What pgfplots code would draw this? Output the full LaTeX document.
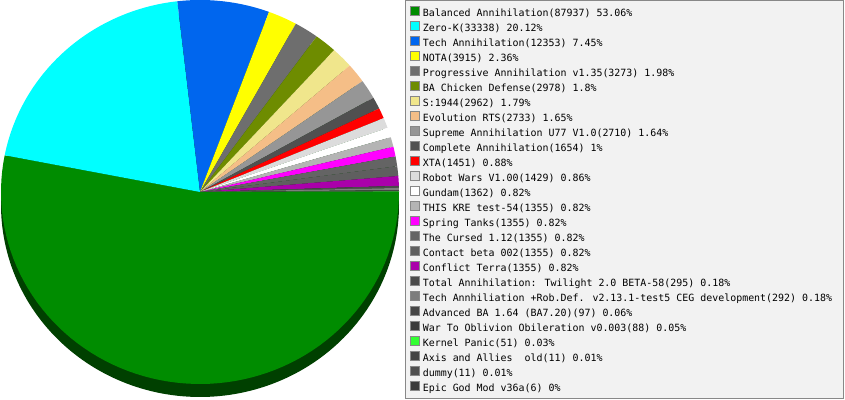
\documentclass[border=0pt]{standalone}
\usepackage{pgfplots}
\pgfplotsset{compat=1.18}
\usepackage{pgfplotstable}
\usepackage{fontspec}
\setmainfont{DejaVu Sans}
\newfontfamily\legmono{DejaVu Sans Mono}
\newcommand\legfont{\legmono\fontsize{9.95bp}{12bp}\selectfont}

\definecolor{c1}{RGB}{0,140,0}
\definecolor{c2}{RGB}{0,255,255}
\definecolor{c3}{RGB}{0,102,238}
\definecolor{c4}{RGB}{255,255,0}
\definecolor{c5}{RGB}{110,110,110}
\definecolor{c6}{RGB}{110,140,0}
\definecolor{c7}{RGB}{240,230,140}
\definecolor{c8}{RGB}{245,190,135}
\definecolor{c9}{RGB}{150,150,150}
\definecolor{c10}{RGB}{80,80,80}
\definecolor{c11}{RGB}{255,0,0}
\definecolor{c12}{RGB}{220,220,220}
\definecolor{c13}{RGB}{255,255,255}
\definecolor{c14}{RGB}{180,180,180}
\definecolor{c15}{RGB}{255,0,255}
\definecolor{c16}{RGB}{100,100,100}
\definecolor{c17}{RGB}{95,95,95}
\definecolor{c18}{RGB}{170,0,170}
\definecolor{c19}{RGB}{75,75,75}
\definecolor{c20}{RGB}{125,125,125}
\definecolor{c21}{RGB}{70,70,70}
\definecolor{c22}{RGB}{60,60,60}
\definecolor{c23}{RGB}{51,255,51}
\definecolor{c24}{RGB}{68,68,68}
\definecolor{c25}{RGB}{80,80,80}
\definecolor{c26}{RGB}{60,60,60}
\definecolor{shadow}{RGB}{0,64,0}
\definecolor{legbg}{RGB}{242,242,242}
\definecolor{legborder}{RGB}{136,136,136}

\pgfplotstableread{
id value
1 87937
2 33338
3 12353
4 3915
5 3273
6 2978
7 2962
8 2733
9 2710
10 1654
11 1451
12 1429
13 1362
14 1355
15 1355
16 1355
17 1355
18 1355
19 295
20 292
21 97
22 88
23 51
24 11
25 11
26 6
}\piedata

\begin{document}
\begin{tikzpicture}
\begin{axis}[
  width=845bp, height=400bp, scale only axis,
  xmin=0, xmax=845, ymin=0, ymax=400,
  hide axis, clip=false,
  legend cell align=left,
  legend style={at={(axis cs:410,394.5)}, anchor=north west,
    draw=none, fill=none, inner sep=0pt, outer sep=0pt,
    row sep=1.1bp, column sep=3bp, font=\legfont,
    nodes={inner sep=0pt, text height=7.5bp, text depth=2.5bp}},
  legend entries={
    {Balanced Annihilation(87937) 53.06\%},
    {Zero-K(33338) 20.12\%},
    {Tech Annihilation(12353) 7.45\%},
    {NOTA(3915) 2.36\%},
    {Progressive Annihilation v1.35(3273) 1.98\%},
    {BA Chicken Defense(2978) 1.8\%},
    {S:1944(2962) 1.79\%},
    {Evolution RTS(2733) 1.65\%},
    {Supreme Annihilation U77 V1.0(2710) 1.64\%},
    {Complete Annihilation(1654) 1\%},
    {XTA(1451) 0.88\%},
    {Robot Wars V1.00(1429) 0.86\%},
    {Gundam(1362) 0.82\%},
    {THIS KRE test-54(1355) 0.82\%},
    {Spring Tanks(1355) 0.82\%},
    {The Cursed 1.12(1355) 0.82\%},
    {Contact beta 002(1355) 0.82\%},
    {Conflict Terra(1355) 0.82\%},
    {Total Annihilation: Twilight 2.0 BETA-58(295) 0.18\%},
    {Tech Annhiliation +Rob.Def. v2.13.1-test5 CEG development(292) 0.18\%},
    {Advanced BA 1.64 (BA7.20)(97) 0.06\%},
    {War To Oblivion Obileration v0.003(88) 0.05\%},
    {Kernel Panic(51) 0.03\%},
    {Axis and Allies~ old(11) 0.01\%},
    {dummy(11) 0.01\%},
    {Epic God Mod v36a(6) 0\%}},
]
\path (axis cs:0,0) rectangle (axis cs:845,400);
\draw[legborder, fill=legbg, line width=1bp] (axis cs:405.5,1.5) rectangle (axis cs:843.5,399.5);
% 3D side of the pie
\addplot[fill=shadow, draw=none, domain=0:360, samples=240, forget plot]
  ({200+199*cos(x)},{195+192*sin(x)});
% total
\def\total{0}
\pgfplotsforeachungrouped \i in {0,...,25}{%
  \pgfplotstablegetelem{\i}{value}\of\piedata
  \xdef\total{\fpeval{\total+\pgfplotsretval}}%
}
\def\cumval{0}
\pgfplotsforeachungrouped \i in {0,...,25}{%
  \pgfplotstablegetelem{\i}{value}\of\piedata
  \edef\a{\fpeval{round(\cumval/\total*360,4)}}%
  \xdef\cumval{\fpeval{\cumval+\pgfplotsretval}}%
  \edef\b{\fpeval{round(\cumval/\total*360,4)}}%
  \edef\ci{\fpeval{\i+1}}%
  \edef\doplot{\noexpand\addplot[fill=c\ci, draw=none, domain=-\b:-\a, samples=80,
      legend image code/.code={\noexpand\path[fill=c\ci, draw=none] (0bp,-0.5bp) rectangle (9bp,8.5bp);
        \noexpand\path[draw=legborder, fill=none, line width=0.8bp] (0bp,-0.5bp) rectangle (9bp,8.5bp);}]
    ({200+199*cos(x)},{208+192*sin(x)}) -- (axis cs:200,208) -- cycle;}%
  \doplot
}
\end{axis}
\end{tikzpicture}
\end{document}
